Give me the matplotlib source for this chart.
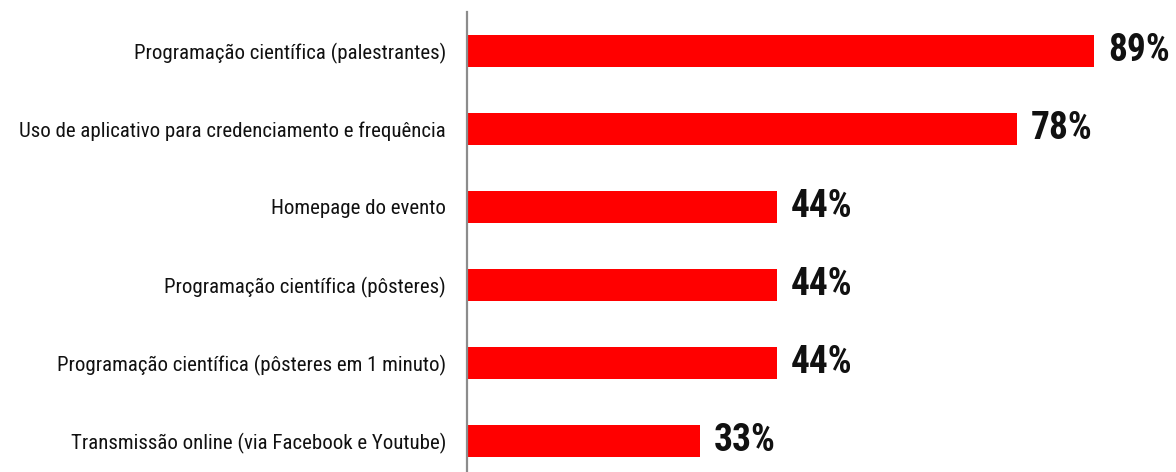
import matplotlib.pyplot as plt
from matplotlib import font_manager

categories = [
    "Programação científica (palestrantes)",
    "Uso de aplicativo para credenciamento e frequência",
    "Homepage do evento",
    "Programação científica (pôsteres)",
    "Programação científica (pôsteres em 1 minuto)",
    "Transmissão online (via Facebook e Youtube)",
]
values = [89, 78, 44, 44, 44, 33]

# pick a narrow font if one is there
names = {f.name for f in font_manager.fontManager.ttflist}
family = "DejaVu Sans"
for cand in ["Liberation Sans Narrow", "DejaVu Sans Condensed", "Roboto Condensed", "Roboto"]:
    if cand in names:
        family = cand
        break
plt.rcParams["font.family"] = [family, "DejaVu Sans"]

fig = plt.figure(figsize=(11.76, 4.72), dpi=100)
ax = fig.add_axes([467 / 1176, -8 / 472, 1 - 467 / 1176, 468 / 472])

y = list(range(len(categories)))
ax.barh(y, values, height=0.41, color="#ff0000")
ax.set_ylim(len(categories) - 0.5, -0.5)
ax.set_xlim(0, 100.6)

ax.set_yticks(y)
ax.set_yticklabels(categories, fontsize=15, color="#111111")
ax.tick_params(axis="y", length=0, pad=15)
ax.set_xticks([])

for s in ["top", "right", "bottom"]:
    ax.spines[s].set_visible(False)
ax.spines["left"].set_color("#8c8c8c")
ax.spines["left"].set_linewidth(1.6)

for yi, v in zip(y, values):
    ax.text(v + 2.0, yi, f"{v}%", va="center", ha="left",
            fontsize=27, fontweight="bold", color="#111111")

fig.savefig("out.png", dpi=100)
